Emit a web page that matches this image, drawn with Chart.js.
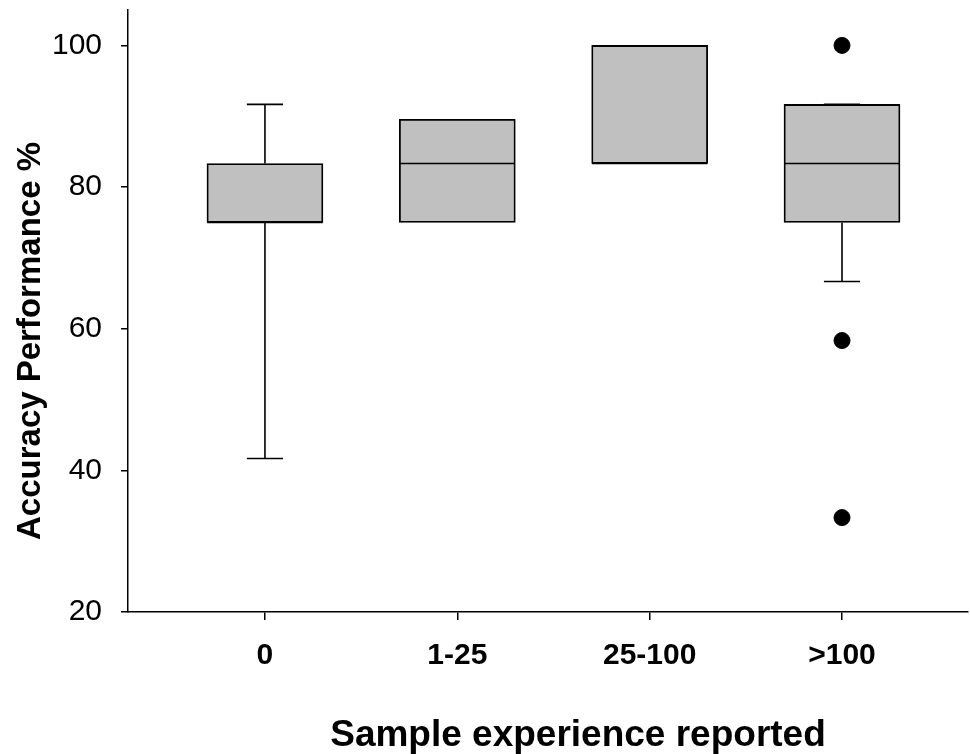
<!DOCTYPE html>
<html>
<head>
<meta charset="utf-8">
<script src="https://cdn.jsdelivr.net/npm/chart.js@4.4.0/dist/chart.umd.min.js"></script>
<style>
  html, body { margin: 0; padding: 0; background: #ffffff; }
  #wrap { width: 970px; height: 754px; }
</style>
</head>
<body>
<div id="wrap"><canvas id="c" width="970" height="754"></canvas></div>
<script>
// ---- Data ----
const categories = ['0', '1-25', '25-100', '>100'];
const q1 = [75, 75, 83.33, 75];
const median = [75, 83.33, 83.33, 83.33];
const q3 = [83.33, 89.58, 100, 91.67];
const whiskerLow = [41.67, null, null, 66.67];
const whiskerHigh = [91.67, null, null, 91.67];
const outliers = [[], [], [], [100, 58.33, 33.33]];
const yTicks = [20, 40, 60, 80, 100];
const xTitle = 'Sample experience reported';
const yTitle = 'Accuracy Performance %';

// ---- Build datasets from the arrays ----
const BOX_HALF = 0.3;
const CAP_HALF = 0.094;

const boxData = categories.map((c, i) => ({ x: i, y: [q1[i], q3[i]] }));

const medianData = [];
categories.forEach((c, i) => {
  medianData.push({ x: i - BOX_HALF, y: median[i] });
  medianData.push({ x: i + BOX_HALF, y: median[i] });
  medianData.push({ x: i, y: null });
});

const whiskerData = [];
categories.forEach((c, i) => {
  if (whiskerHigh[i] !== null) {
    whiskerData.push({ x: i, y: q3[i] });
    whiskerData.push({ x: i, y: whiskerHigh[i] });
    whiskerData.push({ x: i, y: null });
    whiskerData.push({ x: i - CAP_HALF, y: whiskerHigh[i] });
    whiskerData.push({ x: i + CAP_HALF, y: whiskerHigh[i] });
    whiskerData.push({ x: i, y: null });
  }
  if (whiskerLow[i] !== null) {
    whiskerData.push({ x: i, y: q1[i] });
    whiskerData.push({ x: i, y: whiskerLow[i] });
    whiskerData.push({ x: i, y: null });
    whiskerData.push({ x: i - CAP_HALF, y: whiskerLow[i] });
    whiskerData.push({ x: i + CAP_HALF, y: whiskerLow[i] });
    whiskerData.push({ x: i, y: null });
  }
});

const outlierData = [];
outliers.forEach((arr, i) => arr.forEach(v => outlierData.push({ x: i, y: v })));

const FONT = '"Liberation Sans", Arial, Helvetica, sans-serif';

const axisTitles = {
  id: 'axisTitles',
  afterDraw(chart) {
    const ctx = chart.ctx;
    const a = chart.chartArea;
    ctx.save();
    ctx.fillStyle = '#000';
    ctx.textAlign = 'center';
    ctx.textBaseline = 'alphabetic';
    ctx.font = 'bold 37px ' + FONT;
    ctx.fillText(xTitle, 578, 746);
    ctx.translate(40, (a.top + a.bottom) / 2 + 30);
    ctx.rotate(-Math.PI / 2);
    ctx.font = 'bold 33px ' + FONT;
    ctx.fillText(yTitle, 0, 0);
    ctx.restore();
  }
};

new Chart(document.getElementById('c'), {
  type: 'bar',
  data: {
    datasets: [
      {
        type: 'scatter',
        data: outlierData,
        backgroundColor: '#000',
        borderColor: '#000',
        pointRadius: 8,
        pointHoverRadius: 8,
        order: 0
      },
      {
        type: 'line',
        data: medianData,
        borderColor: '#000',
        borderWidth: 1.6,
        pointRadius: 0,
        spanGaps: false,
        fill: false,
        order: 1
      },
      {
        type: 'line',
        data: whiskerData,
        borderColor: '#000',
        borderWidth: 1.6,
        pointRadius: 0,
        spanGaps: false,
        fill: false,
        order: 2
      },
      {
        type: 'bar',
        data: boxData,
        backgroundColor: '#c0c0c0',
        borderColor: '#000',
        borderWidth: 1.8,
        borderSkipped: false,
        barThickness: 116,
        order: 3
      }
    ]
  },
  options: {
    responsive: false,
    animation: false,
    events: [],
    layout: { autoPadding: false, padding: { top: 10, right: 2, left: 0, bottom: 0 } },
    plugins: { legend: { display: false }, tooltip: { enabled: false } },
    scales: {
      x: {
        type: 'linear',
        min: -0.712,
        max: 3.655,
        offset: false,
        grid: { display: true, offset: false, drawOnChartArea: false, drawTicks: true, tickLength: 8, color: '#000', lineWidth: 1.5 },
        border: { display: true, color: '#000', width: 1.5 },
        afterBuildTicks: (scale) => { scale.ticks = categories.map((c, i) => ({ value: i })); },
        afterFit: (scale) => {
          scale.height = 142;
          scale.paddingLeft = 0; scale.paddingRight = 0;
          scale.paddingTop = 0; scale.paddingBottom = 0;
        },
        ticks: {
          autoSkip: false,
          maxRotation: 0,
          padding: 18,
          color: '#000',
          font: { family: FONT, size: 30, weight: 'bold' },
          callback: (v) => categories[v]
        }
      },
      y: {
        type: 'linear',
        min: 20,
        max: 105,
        grid: { display: true, drawOnChartArea: false, drawTicks: true, tickLength: 7, color: '#000', lineWidth: 1.5 },
        border: { display: true, color: '#000', width: 1.5 },
        afterBuildTicks: (scale) => { scale.ticks = yTicks.map(v => ({ value: v })); },
        afterFit: (scale) => {
          scale.width = 128;
          scale.paddingLeft = 0; scale.paddingRight = 0;
          scale.paddingTop = 0; scale.paddingBottom = 0;
        },
        ticks: {
          padding: 19,
          color: '#000',
          font: { family: FONT, size: 30 },
          callback: (v) => String(v)
        }
      }
    }
  },
  plugins: [axisTitles]
});
</script>
</body>
</html>
